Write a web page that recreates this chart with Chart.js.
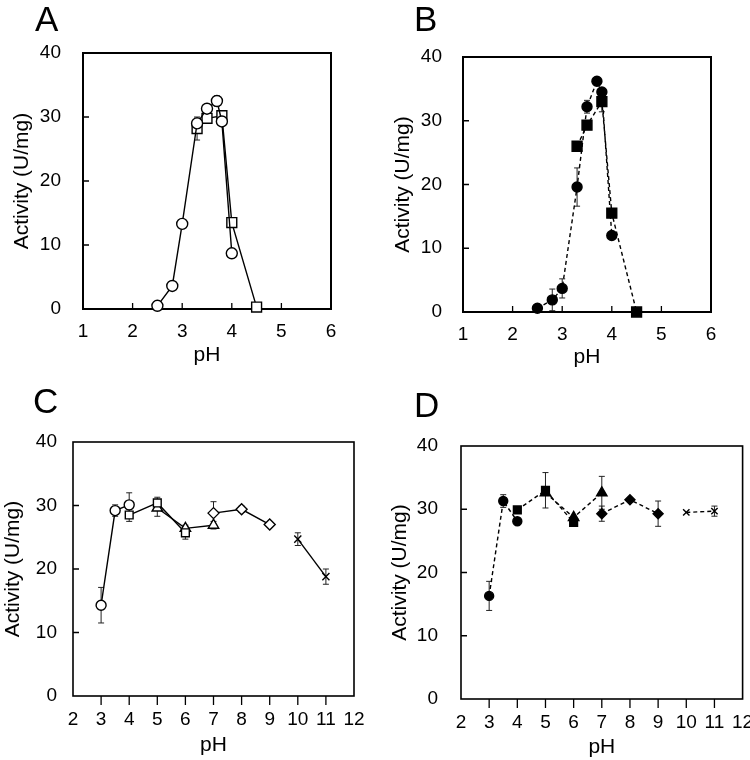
<!DOCTYPE html>
<html>
<head>
<meta charset="utf-8">
<title>pH activity profiles</title>
<script src="https://cdn.jsdelivr.net/npm/chart.js@4.4.0/dist/chart.umd.min.js"></script>
<style>
  body { margin: 0; background: #fff; }
  #page { position: relative; width: 750px; height: 760px; overflow: hidden; }
  canvas { position: absolute; }
  .tag {
    position: absolute;
    font-family: "Liberation Sans", Arial, sans-serif;
    font-size: 35px;
    line-height: 35px;
    color: #000;
  }
</style>
</head>
<body>
<div id="page">
  <canvas id="chartA" width="375" height="380" style="left:0;top:0"></canvas>
  <canvas id="chartB" width="375" height="380" style="left:375px;top:0"></canvas>
  <canvas id="chartC" width="375" height="380" style="left:0;top:380px"></canvas>
  <canvas id="chartD" width="375" height="380" style="left:375px;top:380px"></canvas>
  <div class="tag" style="left:35px;top:1px">A</div>
  <div class="tag" style="left:414px;top:1px">B</div>
  <div class="tag" style="left:33px;top:383px">C</div>
  <div class="tag" style="left:414px;top:387px">D</div>
</div>

<script>
// ---- Panel A (open markers, solid lines) ----
const phA_circle = [2.5, 2.8, 3.0, 3.3, 3.5, 3.7, 3.8, 4.0];
const actA_circle = [0.5, 3.6, 13.3, 29.0, 31.3, 32.5, 29.3, 8.7];
const errA_circle = [0, 0, 0, 0.8, 0, 0.8, 0, 0];
const phA_square = [3.3, 3.5, 3.8, 4.0, 4.5];
const actA_square = [28.2, 29.8, 30.2, 13.5, 0.3];
const errA_square = [1.8, 0, 0.6, 0, 0];

// ---- Panel B (filled markers, dashed lines) ----
const phB_circle = [2.5, 2.8, 3.0, 3.3, 3.5, 3.7, 3.8, 4.0];
const actB_circle = [0.6, 1.9, 3.7, 19.6, 32.2, 36.2, 34.5, 12.0];
const errB_circle = [0, 1.7, 1.5, 3.0, 1.0, 0, 0, 0];
const phB_square = [3.3, 3.5, 3.8, 4.0, 4.5];
const actB_square = [26.0, 29.3, 33.0, 15.5, 0.0];
const errB_square = [0, 0, 1.6, 0, 0];

// ---- Panel C (open markers, solid lines) ----
const phC_circle = [3.0, 3.5, 4.0];
const actC_circle = [14.3, 29.2, 30.1];
const errC_circle = [2.8, 0.9, 1.9];
const phC_square = [4, 5, 6];
const actC_square = [28.5, 30.4, 25.7];
const errC_square = [1.0, 0.9, 1.0];
const phC_triangle = [5, 6, 7];
const actC_triangle = [29.6, 26.4, 26.9];
const errC_triangle = [1.3, 0.5, 0.6];
const phC_diamond = [7, 8, 9];
const actC_diamond = [28.8, 29.4, 27.0];
const errC_diamond = [1.8, 0.5, 0];
const phC_cross = [10, 11];
const actC_cross = [24.7, 18.8];
const errC_cross = [1.0, 1.2];

// ---- Panel D (filled markers, dashed lines) ----
const phD_circle = [3.0, 3.5, 4.0];
const actD_circle = [16.3, 31.3, 28.1];
const errD_circle = [2.3, 1.0, 0];
const phD_square = [4, 5, 6];
const actD_square = [29.9, 33.0, 27.9];
const errD_square = [0, 2.8, 0];
const phD_triangle = [5, 6, 7];
const actD_triangle = [32.6, 28.7, 32.6];
const errD_triangle = [0, 0, 2.6];
const phD_diamond = [7, 8, 9];
const actD_diamond = [29.3, 31.5, 29.3];
const errD_diamond = [1.2, 0, 2.0];
const phD_cross = [10, 11];
const actD_cross = [29.5, 29.7];
const errD_cross = [0, 0.8];

const yTicks = { min: 0, max: 40, step: 10 };

Chart.defaults.font.family = '"Liberation Sans", Arial, sans-serif';
Chart.defaults.color = "#000";

// error bars go under the markers
const errorBarPlugin = {
  id: "errorBars",
  beforeDatasetsDraw(chart) {
    const { ctx } = chart;
    const x = chart.scales.x;
    const y = chart.scales.y;
    ctx.save();
    ctx.strokeStyle = "#222";
    ctx.lineWidth = 1;
    chart.data.datasets.forEach((ds) => {
      (ds.errorBars || []).forEach((e, i) => {
        if (!e) return;
        const px = x.getPixelForValue(ds.data[i].x);
        const top = y.getPixelForValue(ds.data[i].y + e);
        const bot = y.getPixelForValue(ds.data[i].y - e);
        ctx.beginPath();
        ctx.moveTo(px, top);
        ctx.lineTo(px, bot);
        ctx.moveTo(px - 3, top);
        ctx.lineTo(px + 3, top);
        ctx.moveTo(px - 3, bot);
        ctx.lineTo(px + 3, bot);
        ctx.stroke();
      });
    });
    ctx.restore();
  },
};

// box around the plot + inward / outward tick marks
const framePlugin = {
  id: "frame",
  beforeDatasetsDraw(chart, args, opts) {
    const { ctx, chartArea: a } = chart;
    const x = chart.scales.x;
    const y = chart.scales.y;
    ctx.save();
    ctx.strokeStyle = "#000";
    ctx.lineWidth = 1.3;
    ctx.beginPath();
    x.ticks.forEach((t) => {
      if (t.value === x.min || t.value === x.max) return;
      const px = x.getPixelForValue(t.value);
      ctx.moveTo(px, a.bottom);
      ctx.lineTo(px, opts.xOut ? a.bottom + 9 : a.bottom - 6);
    });
    y.ticks.forEach((t) => {
      if (t.value === y.min || t.value === y.max) return;
      const py = y.getPixelForValue(t.value);
      ctx.moveTo(a.left, py);
      ctx.lineTo(a.left + 6, py);
    });
    ctx.stroke();
    ctx.lineWidth = opts.width;
    ctx.strokeRect(a.left, a.top, a.right - a.left, a.bottom - a.top);
    ctx.restore();
  },
};

function series(ph, act, err, style, radius, filled, dashed) {
  return {
    data: ph.map((x, i) => ({ x: x, y: act[i] })),
    errorBars: err,
    showLine: true,
    fill: false,
    tension: 0,
    clip: false,
    borderColor: "#000",
    borderWidth: 1.4,
    borderDash: dashed ? [4, 3] : [],
    pointStyle: style,
    pointRadius: radius,
    pointHoverRadius: radius,
    pointBackgroundColor: filled ? "#000" : "#fff",
    pointBorderColor: "#000",
    pointBorderWidth: 1.4,
  };
}

function makePanel(id, cfg) {
  const a = cfg.area;
  new Chart(document.getElementById(id), {
    type: "scatter",
    data: { datasets: cfg.datasets },
    plugins: [errorBarPlugin, framePlugin],
    options: {
      responsive: false,
      animation: false,
      events: [],
      layout: { padding: { left: 0, top: a.t, right: 375 - a.r, bottom: 0 } },
      plugins: {
        legend: { display: false },
        tooltip: { enabled: false },
        frame: { width: cfg.frameWidth, xOut: cfg.xOut },
      },
      scales: {
        x: {
          type: "linear",
          position: "bottom",
          min: cfg.xMin,
          max: cfg.xMax,
          afterFit(scale) {
            scale.height = 380 - a.b;
            scale.paddingLeft = 0;
            scale.paddingRight = 0;
          },
          grid: { display: false, drawTicks: false },
          border: { display: false },
          ticks: {
            stepSize: 1,
            padding: cfg.xLabelY - a.b - 11.4,
            font: { size: 19, lineHeight: 1.2 },
            color: "#000",
            maxRotation: 0,
          },
          title: {
            display: true,
            text: "pH",
            font: { size: 21, lineHeight: 1.2 },
            color: "#000",
            padding: { top: 0, bottom: Math.max(0, 380 - 12.6 - cfg.xTitleY) },
          },
        },
        y: {
          type: "linear",
          position: "left",
          min: yTicks.min,
          max: yTicks.max,
          afterFit(scale) {
            scale.width = a.l;
          },
          grid: { display: false, drawTicks: false },
          border: { display: false },
          ticks: {
            stepSize: yTicks.step,
            padding: cfg.tickPad,
            font: { size: 19, lineHeight: 1.2 },
            color: "#000",
          },
          title: {
            display: true,
            text: "Activity (U/mg)",
            font: { size: 21, lineHeight: 1.2 },
            color: "#000",
            padding: { top: Math.max(0, cfg.yTitleX - 12.6), bottom: 0 },
          },
        },
      },
    },
  });
}

makePanel("chartA", {
  area: { l: 83, t: 53, r: 331, b: 309 },
  xMin: 1, xMax: 6,
  yTitleX: 22, xLabelY: 332, xTitleY: 355, tickPad: 22,
  xOut: false, frameWidth: 2,
  datasets: [
    series(phA_circle, actA_circle, errA_circle, "circle", 5.5, false, false),
    series(phA_square, actA_square, errA_square, "rect", 7, false, false),
  ],
});

makePanel("chartB", {
  area: { l: 88, t: 57, r: 336, b: 312 },
  xMin: 1, xMax: 6,
  yTitleX: 28, xLabelY: 335, xTitleY: 357, tickPad: 21,
  xOut: false, frameWidth: 2,
  datasets: [
    series(phB_circle, actB_circle, errB_circle, "circle", 5, true, true),
    series(phB_square, actB_square, errB_square, "rect", 7, true, true),
  ],
});

makePanel("chartC", {
  area: { l: 73, t: 62, r: 354, b: 316 },
  xMin: 2, xMax: 12,
  yTitleX: 13, xLabelY: 340, xTitleY: 365, tickPad: 16,
  xOut: true, frameWidth: 1.6,
  datasets: [
    series(phC_circle, actC_circle, errC_circle, "circle", 5, false, false),
    series(phC_square, actC_square, errC_square, "rect", 5.5, false, false),
    series(phC_triangle, actC_triangle, errC_triangle, "triangle", 6, false, false),
    series(phC_diamond, actC_diamond, errC_diamond, "rectRot", 5.5, false, false),
    series(phC_cross, actC_cross, errC_cross, "crossRot", 5, false, false),
  ],
});

makePanel("chartD", {
  area: { l: 86, t: 66, r: 368, b: 319 },
  xMin: 2, xMax: 12,
  yTitleX: 25, xLabelY: 343, xTitleY: 368, tickPad: 23,
  xOut: true, frameWidth: 1.6,
  datasets: [
    series(phD_circle, actD_circle, errD_circle, "circle", 4.5, true, true),
    series(phD_square, actD_square, errD_square, "rect", 5.5, true, true),
    series(phD_triangle, actD_triangle, errD_triangle, "triangle", 6, true, true),
    series(phD_diamond, actD_diamond, errD_diamond, "rectRot", 5, true, true),
    series(phD_cross, actD_cross, errD_cross, "crossRot", 4.5, true, true),
  ],
});
</script>
</body>
</html>
